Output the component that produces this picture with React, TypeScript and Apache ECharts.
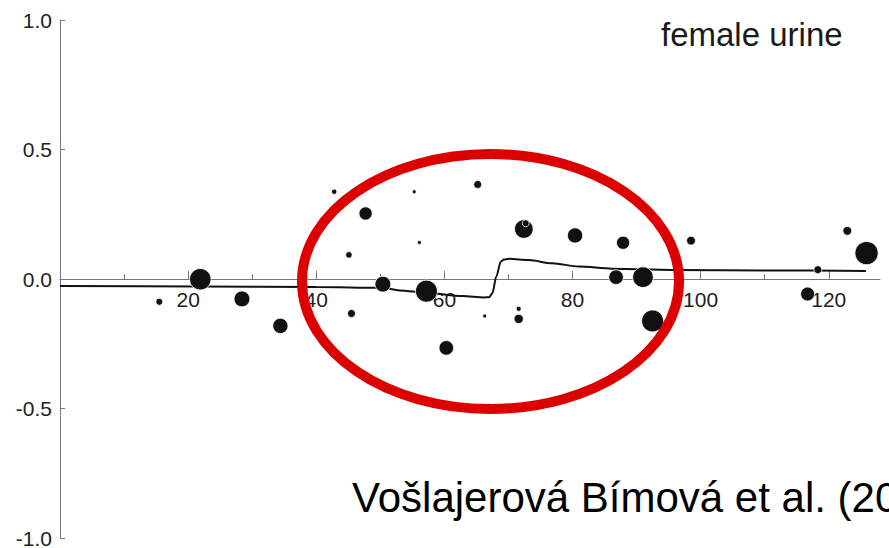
import React, { useEffect, useRef } from "react";
import * as echarts from "echarts";

// Scatter points: x (position), y (deviation), n (weight -> bubble area)
const ptX = [15.5, 21.9, 28.4, 34.4, 42.8, 47.7, 45.1, 45.5, 50.4, 55.3, 56.1, 57.2, 60.3, 65.2, 66.3, 72.4, 72.7, 71.6, 71.6, 80.4, 87.9, 86.8, 91.0, 92.5, 98.5, 116.7, 118.3, 122.9, 125.9];
const ptY = [-0.088, -0.001, -0.077, -0.181, 0.337, 0.253, 0.093, -0.133, -0.02, 0.337, 0.141, -0.047, -0.266, 0.365, -0.143, 0.193, 0.215, -0.115, -0.154, 0.168, 0.14, 0.007, 0.007, -0.162, 0.148, -0.058, 0.036, 0.186, 0.1];
const ptN = [2.5, 24, 13, 12, 1.5, 9, 2.2, 3.3, 13, 0.8, 0.8, 25, 11, 3.3, 0.8, 18, 2.5, 1.3, 4.5, 12, 9, 11, 22, 25, 4, 10, 3.3, 4, 28];

// Fitted cline
const curveX = [0, 21.8, 40, 50.3, 53, 57.2, 62.8, 66.2, 67.0, 67.5, 68.1, 68.8, 69.3, 70.1, 73.2, 76.8, 81, 86.2, 95.5, 110.6, 125.8];
const curveY = [-0.027, -0.029, -0.031, -0.034, -0.044, -0.053, -0.066, -0.071, -0.07, -0.055, 0.009, 0.067, 0.075, 0.078, 0.073, 0.061, 0.048, 0.04, 0.035, 0.033, 0.031];

const xMajorTicks = [20, 40, 60, 80, 100, 120];
const xMinorTicks = [10, 30, 50, 70, 90, 110];
const xMin = 0;
const xMax = 128;
const yMin = -1;
const yMax = 1;
const yInterval = 0.5;

const labelText = "female urine";
const citeText = "Vošlajerová Bímová et al. (20";

export default function App() {
  const ref = useRef<HTMLDivElement>(null);
  useEffect(() => {
    if (!ref.current) return;
    const chart = echarts.init(ref.current, null, { renderer: "svg" });
    const font = "Liberation Sans, Arial, sans-serif";
    const axisColor = "#777";
    const top = 20;
    const bottom = 10;
    const plotH = 548 - top - bottom;
    // x axis sits on y = 0: move it up from the grid bottom by the height of [yMin, 0]
    const zeroOffset = -plotH * ((0 - yMin) / (yMax - yMin));
    chart.setOption({
      animation: false,
      backgroundColor: "#fff",
      grid: {
        left: 60,
        right: 9,
        top,
        bottom,
        containLabel: false,
        outerBoundsMode: "none",
      },
      xAxis: [
        {
          type: "value",
          position: "bottom",
          offset: zeroOffset,
          min: xMin,
          max: xMax,
          interval: 20,
          axisLine: { show: true, onZero: false, lineStyle: { color: axisColor, width: 1 } },
          axisTick: { show: true, inside: true, length: 8, customValues: xMajorTicks, lineStyle: { color: axisColor } },
          axisLabel: { show: true, customValues: xMajorTicks, margin: 10, fontSize: 21, color: "#222", fontFamily: font },
          splitLine: { show: false },
        },
        {
          type: "value",
          position: "bottom",
          offset: zeroOffset,
          min: xMin,
          max: xMax,
          interval: 10,
          axisLine: { show: false, onZero: false },
          axisTick: { show: true, inside: true, length: 5, customValues: xMinorTicks, lineStyle: { color: axisColor } },
          axisLabel: { show: false },
          splitLine: { show: false },
        },
      ],
      yAxis: {
        type: "value",
        position: "left",
        min: yMin,
        max: yMax,
        interval: yInterval,
        axisLine: { show: true, onZero: false, lineStyle: { color: axisColor, width: 1 } },
        axisTick: { show: true, inside: true, length: 5, lineStyle: { color: axisColor } },
        axisLabel: {
          margin: 8,
          fontSize: 21,
          color: "#222",
          fontFamily: font,
          formatter: (v: number) => v.toFixed(1),
        },
        splitLine: { show: false },
      },
      series: [
        {
          type: "line",
          xAxisIndex: 0,
          data: curveX.map((x, i) => [x, curveY[i]]),
          smooth: 0.3,
          smoothMonotone: "x",
          symbol: "none",
          lineStyle: { color: "#111", width: 2 },
          z: 3,
        },
        {
          type: "scatter",
          xAxisIndex: 0,
          data: ptX.map((x, i) => [x, ptY[i], ptN[i]]),
          symbolSize: (val: number[]) => 4.4 * Math.sqrt(val[2]),
          itemStyle: { color: "#111", borderColor: "#fff", borderWidth: 0.8, opacity: 1 },
          z: 4,
        },
      ],
      graphic: [
        {
          type: "ellipse",
          shape: { cx: 490.5, cy: 281.5, rx: 188.5, ry: 127.5 },
          style: { fill: "none", stroke: "#dc0000", lineWidth: 10 },
          z: 100,
        },
        {
          type: "text",
          x: 661,
          y: 34.6,
          style: {
            text: labelText,
            fontSize: 33,
            fontFamily: font,
            fill: "#1a1a1a",
            verticalAlign: "middle",
          },
          z: 100,
        },
        {
          type: "text",
          x: 352,
          y: 497.5,
          style: {
            text: citeText,
            fontSize: 42,
            fontFamily: font,
            fill: "#000",
            verticalAlign: "middle",
          },
          z: 100,
        },
      ],
    });
    return () => chart.dispose();
  }, []);
  return (
    <div
      ref={ref}
      style={{ position: "fixed", left: 0, top: 0, width: 889, height: 548, overflow: "hidden" }}
    />
  );
}
